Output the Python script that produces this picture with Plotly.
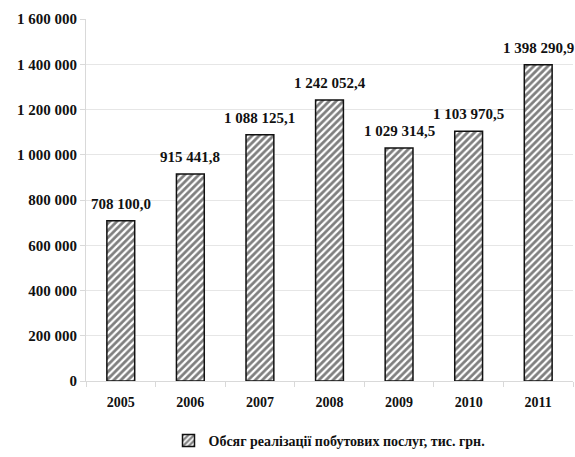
import plotly.graph_objects as go

years = ["2005", "2006", "2007", "2008", "2009", "2010", "2011"]
values = [708100.0, 915441.8, 1088125.1, 1242052.4, 1029314.5, 1103970.5, 1398290.9]
series_name = "Обсяг реалізації побутових послуг, тис. грн."
y_ticks = [0, 200000, 400000, 600000, 800000, 1000000, 1200000, 1400000, 1600000]


def fmt(v):
    whole, frac = f"{v:.1f}".split(".")
    whole = f"{int(whole):,}".replace(",", " ")
    return f"{whole},{frac}"


def fmt_tick(v):
    return f"{int(v):,}".replace(",", " ")


FONT = "Liberation Serif"

fig = go.Figure()
fig.add_trace(go.Bar(
    x=years, y=values, name=f"<b>{series_name}</b>",
    marker=dict(
        color="white",
        line=dict(color="#111111", width=1.5),
        pattern=dict(shape="/", fgcolor="#000000", bgcolor="white", size=5, solidity=0.55),
    ),
    showlegend=True,
))

for i, v in enumerate(values):
    fig.add_annotation(x=i, y=v, text=f"<b>{fmt(v)}</b>", showarrow=False,
                       yanchor="bottom", yshift=7,
                       font=dict(family=FONT, size=15, color="#111111"))

fig.update_layout(
    width=575, height=457,
    margin=dict(l=86, r=2, t=19, b=76),
    paper_bgcolor="white", plot_bgcolor="white",
    bargap=0.6,
    font=dict(family=FONT, size=14, color="#111111"),
    showlegend=True,
    legend=dict(orientation="h", x=0.5, xanchor="center",
                yref="container", y=-0.022, yanchor="bottom",
                font=dict(family=FONT, size=14, color="#111111")),
    xaxis=dict(
        type="category", range=[-0.5, len(years) - 0.5],
        ticktext=[f"<b>{y}</b>" for y in years], tickvals=years,
        showgrid=False, showline=True, linecolor="#d9d9d9",
        ticks="outside", tickcolor="#d9d9d9", ticklen=5, tickson="boundaries",
        ticklabelstandoff=8,
        tickfont=dict(family=FONT, size=14, color="#111111"),
    ),
    yaxis=dict(
        range=[0, 1600000], tickvals=y_ticks,
        ticktext=[f"<b>{fmt_tick(t)}</b>" for t in y_ticks],
        showgrid=True, gridcolor="#e6e6e6", gridwidth=1,
        showline=True, linecolor="#d9d9d9",
        ticks="outside", tickcolor="#d9d9d9", ticklen=5,
        zeroline=False,
        tickfont=dict(family=FONT, size=15, color="#111111"),
    ),
)

fig.write_html("out.html")
